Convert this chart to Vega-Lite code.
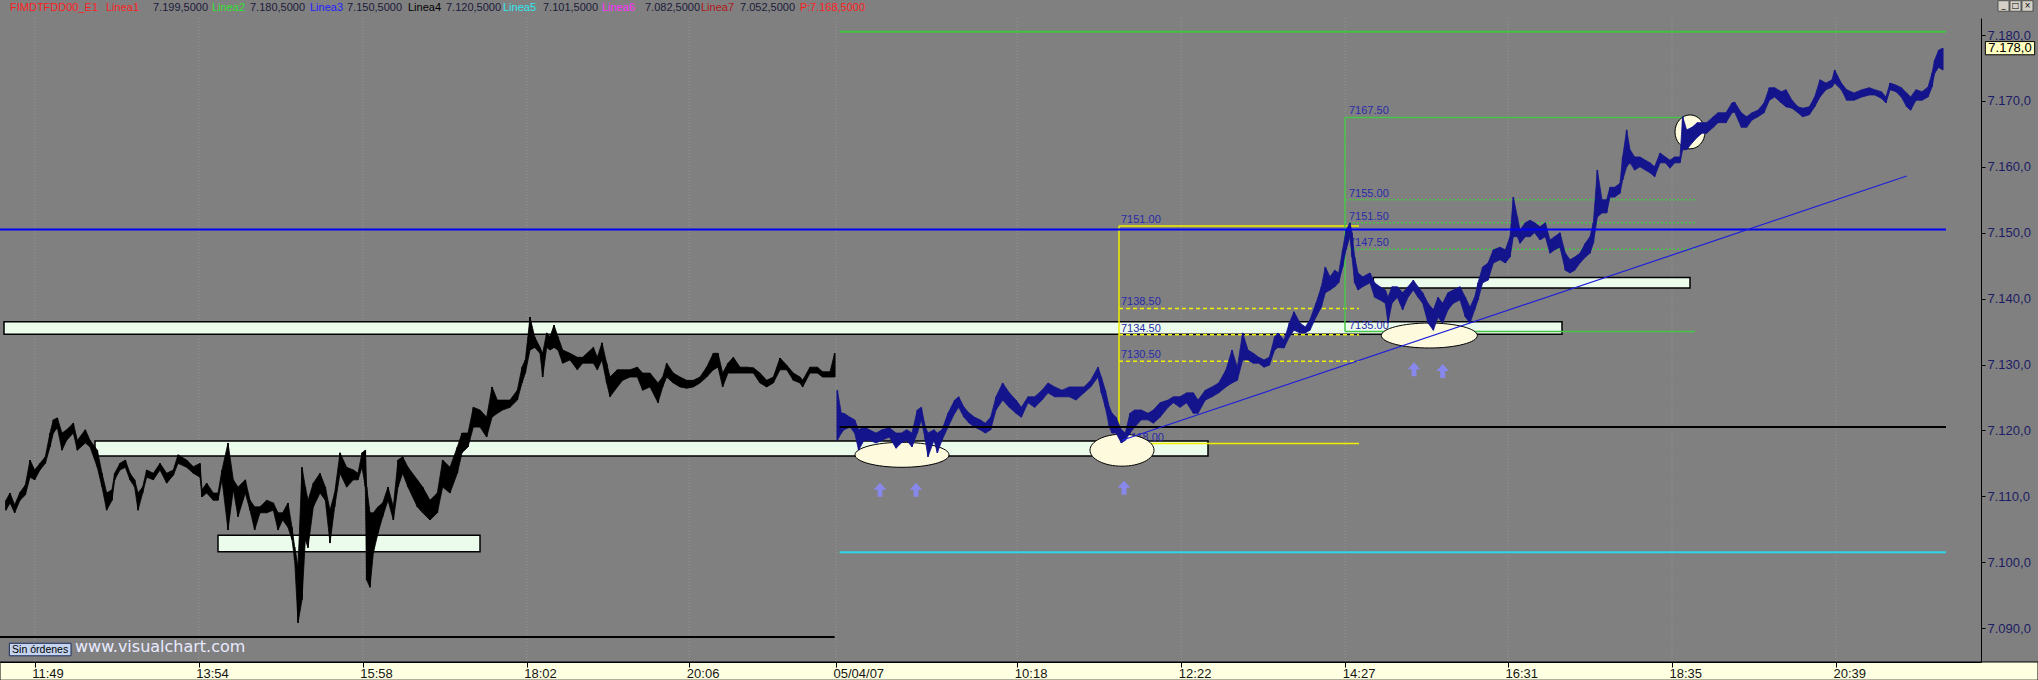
{
"$schema":"https://vega.github.io/schema/vega-lite/v6.json",
"width":1981,"height":644,
"autosize":{"type":"none"},
"padding":{"left":0,"top":18,"right":57,"bottom":18},
"background":"#808080",
"config":{"view":{"stroke":null},"font":"Liberation Sans"},
"datasets":{
"bars":[
{"t":4.5,"h":7109.4,"l":7107.9,"c":"sesA"},{"t":7.5,"h":7110.5,"l":7109,"c":"sesA"},{"t":11,"h":7108.7,"l":7107.5,"c":"sesA"},{"t":15,"h":7110.6,"l":7109.4,"c":"sesA"},{"t":19,"h":7111.7,"l":7110.2,"c":"sesA"},{"t":22.5,"h":7115.5,"l":7112.9,"c":"sesA"},{"t":26,"h":7114,"l":7112.5,"c":"sesA"},{"t":30,"h":7115,"l":7114,"c":"sesA"},{"t":34,"h":7116,"l":7115,"c":"sesA"},{"t":37.5,"h":7119.6,"l":7117.5,"c":"sesA"},{"t":40,"h":7121.6,"l":7119.6,"c":"sesA"},{"t":43,"h":7121.9,"l":7120.4,"c":"sesA"},{"t":46.5,"h":7119.6,"l":7117,"c":"sesA"},{"t":50,"h":7120.1,"l":7118.5,"c":"sesA"},{"t":55,"h":7121.1,"l":7119.6,"c":"sesA"},{"t":58,"h":7118.5,"l":7117,"c":"sesA"},{"t":64,"h":7120.1,"l":7118.1,"c":"sesA"},{"t":67.5,"h":7118.5,"l":7117.5,"c":"sesA"},{"t":73,"h":7117,"l":7114.4,"c":"sesA"},{"t":76.5,"h":7113.5,"l":7111.4,"c":"sesA"},{"t":80,"h":7110.5,"l":7107.9,"c":"sesA"},{"t":84,"h":7111,"l":7109.4,"c":"sesA"},{"t":86,"h":7113.5,"l":7112.5,"c":"sesA"},{"t":90,"h":7115,"l":7114,"c":"sesA"},{"t":94,"h":7115.5,"l":7114.4,"c":"sesA"},{"t":97.5,"h":7113.5,"l":7112.5,"c":"sesA"},{"t":101,"h":7112.5,"l":7111.4,"c":"sesA"},{"t":103.5,"h":7110.5,"l":7107.9,"c":"sesA"},{"t":107,"h":7111.4,"l":7110.5,"c":"sesA"},{"t":110,"h":7114,"l":7112.9,"c":"sesA"},{"t":115,"h":7113.5,"l":7112.5,"c":"sesA"},{"t":120,"h":7115,"l":7114,"c":"sesA"},{"t":125,"h":7113.5,"l":7112,"c":"sesA"},{"t":130,"h":7114,"l":7113.2,"c":"sesA"},{"t":133.5,"h":7116.3,"l":7115,"c":"sesA"},{"t":140,"h":7115.5,"l":7114.4,"c":"sesA"},{"t":145,"h":7114.5,"l":7113.5,"c":"sesA"},{"t":150,"h":7115,"l":7112.9,"c":"sesA"},{"t":151.5,"h":7111,"l":7109.9,"c":"sesA"},{"t":155,"h":7112,"l":7110.5,"c":"sesA"},{"t":160,"h":7110.5,"l":7109.4,"c":"sesA"},{"t":163.5,"h":7110.5,"l":7109.4,"c":"sesA"},{"t":166.5,"h":7114,"l":7112.5,"c":"sesA"},{"t":171,"h":7118.1,"l":7104.9,"c":"sesA"},{"t":175,"h":7112.5,"l":7111,"c":"sesA"},{"t":178.5,"h":7111.4,"l":7106.9,"c":"sesA"},{"t":184,"h":7112.5,"l":7110.5,"c":"sesA"},{"t":187.5,"h":7109.4,"l":7107.9,"c":"sesA"},{"t":191,"h":7108.4,"l":7104.9,"c":"sesA"},{"t":195,"h":7108.4,"l":7107.5,"c":"sesA"},{"t":200,"h":7109.4,"l":7107.5,"c":"sesA"},{"t":205,"h":7109,"l":7107.9,"c":"sesA"},{"t":208.5,"h":7107.5,"l":7104.9,"c":"sesA"},{"t":212,"h":7107.5,"l":7106.4,"c":"sesA"},{"t":216,"h":7109,"l":7105.3,"c":"sesA"},{"t":219,"h":7105.3,"l":7103.4,"c":"sesA"},{"t":221,"h":7102.3,"l":7100.3,"c":"sesA"},{"t":223.5,"h":7099.3,"l":7090.8,"c":"sesA"},{"t":226.5,"h":7114.4,"l":7094.3,"c":"sesA"},{"t":229,"h":7111.4,"l":7103.4,"c":"sesA"},{"t":231,"h":7109.4,"l":7102.2,"c":"sesA"},{"t":235,"h":7112,"l":7108.4,"c":"sesA"},{"t":240,"h":7113.5,"l":7110.5,"c":"sesA"},{"t":244,"h":7111.4,"l":7109.4,"c":"sesA"},{"t":247.5,"h":7107.9,"l":7102.9,"c":"sesA"},{"t":251,"h":7110.5,"l":7108.4,"c":"sesA"},{"t":255,"h":7116.6,"l":7113.5,"c":"sesA"},{"t":260,"h":7114.4,"l":7111.4,"c":"sesA"},{"t":265,"h":7114,"l":7112.5,"c":"sesA"},{"t":268.5,"h":7113.5,"l":7112.5,"c":"sesA"},{"t":271.5,"h":7116.6,"l":7114.4,"c":"sesA"},{"t":274,"h":7117,"l":7111.4,"c":"sesA"},{"t":275,"h":7111.4,"l":7097.3,"c":"sesA"},{"t":277.5,"h":7107.5,"l":7096.2,"c":"sesA"},{"t":280,"h":7107.5,"l":7101.4,"c":"sesA"},{"t":283.5,"h":7108.4,"l":7104.4,"c":"sesA"},{"t":287,"h":7109,"l":7106.9,"c":"sesA"},{"t":291,"h":7111.4,"l":7109.4,"c":"sesA"},{"t":295,"h":7108.4,"l":7106.4,"c":"sesA"},{"t":298.5,"h":7115.5,"l":7111.4,"c":"sesA"},{"t":302,"h":7116,"l":7113.5,"c":"sesA"},{"t":306,"h":7114.4,"l":7111.4,"c":"sesA"},{"t":313,"h":7112.5,"l":7108.4,"c":"sesA"},{"t":317,"h":7111.4,"l":7107.5,"c":"sesA"},{"t":322.5,"h":7109.4,"l":7106.4,"c":"sesA"},{"t":328,"h":7110.5,"l":7107.5,"c":"sesA"},{"t":332,"h":7115.5,"l":7111.4,"c":"sesA"},{"t":337.5,"h":7114.4,"l":7110.5,"c":"sesA"},{"t":343,"h":7117.5,"l":7113.5,"c":"sesA"},{"t":346.5,"h":7119.6,"l":7116.6,"c":"sesA"},{"t":351,"h":7119.6,"l":7117.5,"c":"sesA"},{"t":355,"h":7123.5,"l":7120.5,"c":"sesA"},{"t":360,"h":7123.1,"l":7120.5,"c":"sesA"},{"t":365,"h":7122,"l":7119,"c":"sesA"},{"t":369,"h":7126.6,"l":7122,"c":"sesA"},{"t":373,"h":7124.6,"l":7122.6,"c":"sesA"},{"t":377,"h":7124.6,"l":7123.1,"c":"sesA"},{"t":382.5,"h":7124.6,"l":7123.5,"c":"sesA"},{"t":388,"h":7126.1,"l":7124.6,"c":"sesA"},{"t":391.5,"h":7129.6,"l":7127.2,"c":"sesA"},{"t":394,"h":7130.7,"l":7128.7,"c":"sesA"},{"t":397.5,"h":7137.2,"l":7132.2,"c":"sesA"},{"t":401,"h":7134.2,"l":7132.6,"c":"sesA"},{"t":405,"h":7132.6,"l":7131.7,"c":"sesA"},{"t":407,"h":7131.7,"l":7128.1,"c":"sesA"},{"t":410,"h":7134.8,"l":7132.6,"c":"sesA"},{"t":412.5,"h":7134.2,"l":7132.2,"c":"sesA"},{"t":415.5,"h":7136,"l":7132.6,"c":"sesA"},{"t":418.5,"h":7134.2,"l":7132.2,"c":"sesA"},{"t":422,"h":7132.2,"l":7130.2,"c":"sesA"},{"t":427.5,"h":7131.7,"l":7130.7,"c":"sesA"},{"t":433,"h":7131.1,"l":7129.2,"c":"sesA"},{"t":437,"h":7131.1,"l":7130.2,"c":"sesA"},{"t":445,"h":7132.6,"l":7130.2,"c":"sesA"},{"t":448,"h":7131.1,"l":7129.2,"c":"sesA"},{"t":451.5,"h":7133.3,"l":7130.7,"c":"sesA"},{"t":455,"h":7130.2,"l":7127.2,"c":"sesA"},{"t":457.5,"h":7128.1,"l":7125.1,"c":"sesA"},{"t":463,"h":7129.2,"l":7126.6,"c":"sesA"},{"t":467,"h":7129.2,"l":7127.6,"c":"sesA"},{"t":472.5,"h":7129.2,"l":7128.1,"c":"sesA"},{"t":478,"h":7129.6,"l":7128.1,"c":"sesA"},{"t":482,"h":7128.7,"l":7126.1,"c":"sesA"},{"t":487.5,"h":7128.7,"l":7126.6,"c":"sesA"},{"t":493.5,"h":7127.2,"l":7124.2,"c":"sesA"},{"t":497,"h":7128.1,"l":7126.6,"c":"sesA"},{"t":500,"h":7130.2,"l":7128.1,"c":"sesA"},{"t":505,"h":7128.7,"l":7127.2,"c":"sesA"},{"t":510,"h":7128.1,"l":7126.6,"c":"sesA"},{"t":515,"h":7127.6,"l":7126.4,"c":"sesA"},{"t":520,"h":7127.6,"l":7126.6,"c":"sesA"},{"t":525,"h":7128.1,"l":7127.2,"c":"sesA"},{"t":530,"h":7129.6,"l":7128.1,"c":"sesA"},{"t":535,"h":7131.7,"l":7129.2,"c":"sesA"},{"t":538.5,"h":7131.7,"l":7129.6,"c":"sesA"},{"t":542,"h":7128.7,"l":7126.6,"c":"sesA"},{"t":546,"h":7130.2,"l":7128.7,"c":"sesA"},{"t":550,"h":7131.1,"l":7128.7,"c":"sesA"},{"t":555,"h":7129.6,"l":7128.7,"c":"sesA"},{"t":560,"h":7129.6,"l":7128.7,"c":"sesA"},{"t":565,"h":7129.5,"l":7128.7,"c":"sesA"},{"t":570,"h":7128.7,"l":7127.2,"c":"sesA"},{"t":575,"h":7127.6,"l":7126.6,"c":"sesA"},{"t":580,"h":7128.1,"l":7127.2,"c":"sesA"},{"t":585,"h":7131,"l":7129.2,"c":"sesA"},{"t":590,"h":7129.9,"l":7129.2,"c":"sesA"},{"t":595,"h":7128.7,"l":7127.6,"c":"sesA"},{"t":600,"h":7128.1,"l":7127.2,"c":"sesA"},{"t":602,"h":7127.6,"l":7126.6,"c":"sesA"},{"t":607.5,"h":7129.6,"l":7128.7,"c":"sesA"},{"t":613,"h":7129.6,"l":7128.7,"c":"sesA"},{"t":617,"h":7128.9,"l":7128.1,"c":"sesA"},{"t":622.5,"h":7128.9,"l":7128.1,"c":"sesA"},{"t":626,"h":7131.7,"l":7128.1,"c":"sesA"},
{"t":628,"h":7126.1,"l":7118.5,"c":"sesB"},{"t":631,"h":7122.6,"l":7119.6,"c":"sesB"},{"t":633,"h":7122.6,"l":7120.1,"c":"sesB"},{"t":637.5,"h":7122,"l":7120.5,"c":"sesB"},{"t":641,"h":7121.6,"l":7119.6,"c":"sesB"},{"t":644,"h":7120.1,"l":7117,"c":"sesB"},{"t":648,"h":7120.5,"l":7118.5,"c":"sesB"},{"t":652,"h":7120.1,"l":7118.5,"c":"sesB"},{"t":657,"h":7119.6,"l":7118.1,"c":"sesB"},{"t":661.5,"h":7120.1,"l":7118.5,"c":"sesB"},{"t":667,"h":7120.4,"l":7119,"c":"sesB"},{"t":672,"h":7119.6,"l":7117.3,"c":"sesB"},{"t":676,"h":7119.6,"l":7118.1,"c":"sesB"},{"t":680,"h":7120.1,"l":7118.5,"c":"sesB"},{"t":684,"h":7119.6,"l":7117.5,"c":"sesB"},{"t":688,"h":7123.1,"l":7119.6,"c":"sesB"},{"t":691,"h":7123.5,"l":7121.6,"c":"sesB"},{"t":694,"h":7120.5,"l":7118.5,"c":"sesB"},{"t":696,"h":7119.6,"l":7116,"c":"sesB"},{"t":700.5,"h":7120.1,"l":7118.5,"c":"sesB"},{"t":703,"h":7119.6,"l":7116.6,"c":"sesB"},{"t":706.5,"h":7120.1,"l":7118.5,"c":"sesB"},{"t":711,"h":7122.6,"l":7120.5,"c":"sesB"},{"t":716,"h":7124.6,"l":7122.6,"c":"sesB"},{"t":719,"h":7125.1,"l":7123.5,"c":"sesB"},{"t":723,"h":7123.5,"l":7122,"c":"sesB"},{"t":727,"h":7122.6,"l":7121.1,"c":"sesB"},{"t":731,"h":7122,"l":7120.5,"c":"sesB"},{"t":735,"h":7121.6,"l":7120.1,"c":"sesB"},{"t":739,"h":7121.1,"l":7119.6,"c":"sesB"},{"t":743,"h":7122,"l":7120.1,"c":"sesB"},{"t":747,"h":7125.1,"l":7123.1,"c":"sesB"},{"t":752,"h":7127.2,"l":7124.6,"c":"sesB"},{"t":757,"h":7125.7,"l":7123.5,"c":"sesB"},{"t":762,"h":7124.6,"l":7122.6,"c":"sesB"},{"t":766,"h":7123.5,"l":7122,"c":"sesB"},{"t":771,"h":7125.1,"l":7124.2,"c":"sesB"},{"t":776,"h":7125.1,"l":7123.5,"c":"sesB"},{"t":781.5,"h":7126.1,"l":7124.6,"c":"sesB"},{"t":786,"h":7127.2,"l":7125.7,"c":"sesB"},{"t":791,"h":7126.6,"l":7125.1,"c":"sesB"},{"t":796.5,"h":7126.1,"l":7125.1,"c":"sesB"},{"t":802,"h":7126.6,"l":7125.1,"c":"sesB"},{"t":807,"h":7126.6,"l":7124.6,"c":"sesB"},{"t":813,"h":7126.6,"l":7125.7,"c":"sesB"},{"t":818,"h":7127.6,"l":7126.6,"c":"sesB"},{"t":823.5,"h":7129.6,"l":7128.1,"c":"sesB"},{"t":826,"h":7128.1,"l":7125.7,"c":"sesB"},{"t":829,"h":7126.1,"l":7123.5,"c":"sesB"},{"t":832,"h":7123.5,"l":7120.5,"c":"sesB"},{"t":834,"h":7122.6,"l":7119.6,"c":"sesB"},{"t":837,"h":7122,"l":7119.6,"c":"sesB"},{"t":841,"h":7120.1,"l":7118.1,"c":"sesB"},{"t":844,"h":7119.6,"l":7118.5,"c":"sesB"},{"t":847.5,"h":7122.6,"l":7119.6,"c":"sesB"},{"t":851,"h":7123.1,"l":7120.5,"c":"sesB"},{"t":856,"h":7123.1,"l":7121.6,"c":"sesB"},{"t":861,"h":7122.6,"l":7121.6,"c":"sesB"},{"t":865,"h":7123.1,"l":7121.1,"c":"sesB"},{"t":870,"h":7124.2,"l":7122,"c":"sesB"},{"t":876,"h":7124.6,"l":7123.5,"c":"sesB"},{"t":880,"h":7125.1,"l":7124.2,"c":"sesB"},{"t":885,"h":7125.1,"l":7123.5,"c":"sesB"},{"t":890,"h":7125.7,"l":7124.2,"c":"sesB"},{"t":895,"h":7125.7,"l":7122.6,"c":"sesB"},{"t":898.5,"h":7124.6,"l":7122.6,"c":"sesB"},{"t":904,"h":7126.1,"l":7124.6,"c":"sesB"},{"t":909,"h":7126.6,"l":7125.1,"c":"sesB"},{"t":914,"h":7127.2,"l":7125.7,"c":"sesB"},{"t":919.5,"h":7129.2,"l":7126.6,"c":"sesB"},{"t":924,"h":7132.2,"l":7127.2,"c":"sesB"},{"t":928,"h":7129.6,"l":7127.6,"c":"sesB"},{"t":932,"h":7134.8,"l":7130.7,"c":"sesB"},{"t":936,"h":7132.2,"l":7130.7,"c":"sesB"},{"t":940,"h":7131.7,"l":7130.2,"c":"sesB"},{"t":944,"h":7131.1,"l":7130.2,"c":"sesB"},{"t":948,"h":7130.7,"l":7129.6,"c":"sesB"},{"t":952,"h":7131.1,"l":7129.9,"c":"sesB"},{"t":956,"h":7134.2,"l":7132.2,"c":"sesB"},{"t":958.5,"h":7134.8,"l":7132.6,"c":"sesB"},{"t":963,"h":7133.7,"l":7132.5,"c":"sesB"},{"t":967,"h":7136.3,"l":7134.2,"c":"sesB"},{"t":970.5,"h":7138,"l":7135.2,"c":"sesB"},{"t":975,"h":7136.3,"l":7134.8,"c":"sesB"},{"t":979,"h":7135.7,"l":7134.8,"c":"sesB"},{"t":982.5,"h":7136.8,"l":7135.2,"c":"sesB"},{"t":987,"h":7139.3,"l":7137.2,"c":"sesB"},{"t":991,"h":7141.8,"l":7138.7,"c":"sesB"},{"t":994,"h":7144.8,"l":7140.9,"c":"sesB"},{"t":997.5,"h":7143.3,"l":7141.3,"c":"sesB"},{"t":1001,"h":7144.3,"l":7141.8,"c":"sesB"},{"t":1004,"h":7143.9,"l":7142.4,"c":"sesB"},{"t":1007,"h":7147.4,"l":7144.8,"c":"sesB"},{"t":1009.5,"h":7150.4,"l":7147.4,"c":"sesB"},{"t":1012.5,"h":7151.5,"l":7149.4,"c":"sesB"},{"t":1014,"h":7150,"l":7146.3,"c":"sesB"},{"t":1016,"h":7146.3,"l":7142.4,"c":"sesB"},{"t":1018.5,"h":7143.9,"l":7141.3,"c":"sesB"},{"t":1022,"h":7143.3,"l":7141.8,"c":"sesB"},{"t":1027.5,"h":7143.9,"l":7142.4,"c":"sesB"},{"t":1031,"h":7142.4,"l":7140.2,"c":"sesB"},{"t":1035,"h":7141.8,"l":7139.8,"c":"sesB"},{"t":1039,"h":7141.3,"l":7139.3,"c":"sesB"},{"t":1041,"h":7140.2,"l":7136.3,"c":"sesB"},{"t":1044,"h":7141.8,"l":7139.3,"c":"sesB"},{"t":1048,"h":7141.8,"l":7140.2,"c":"sesB"},{"t":1052,"h":7140.9,"l":7138.3,"c":"sesB"},{"t":1056,"h":7141.8,"l":7140.2,"c":"sesB"},{"t":1060,"h":7142.8,"l":7141.3,"c":"sesB"},{"t":1063.5,"h":7141.8,"l":7140.2,"c":"sesB"},{"t":1067,"h":7140.9,"l":7139.3,"c":"sesB"},{"t":1071,"h":7139.3,"l":7136.3,"c":"sesB"},{"t":1075,"h":7138.3,"l":7135.2,"c":"sesB"},{"t":1078.5,"h":7140.2,"l":7137.2,"c":"sesB"},{"t":1082,"h":7139.3,"l":7136.3,"c":"sesB"},{"t":1086,"h":7140.9,"l":7138.3,"c":"sesB"},{"t":1090,"h":7141.3,"l":7139.3,"c":"sesB"},{"t":1095,"h":7141.8,"l":7139.8,"c":"sesB"},{"t":1099,"h":7140.2,"l":7137.2,"c":"sesB"},{"t":1102.5,"h":7138.7,"l":7136.3,"c":"sesB"},{"t":1106,"h":7140.2,"l":7138.3,"c":"sesB"},{"t":1108.5,"h":7142.4,"l":7139.8,"c":"sesB"},{"t":1112,"h":7144.8,"l":7142.4,"c":"sesB"},{"t":1116,"h":7145.4,"l":7142.8,"c":"sesB"},{"t":1120,"h":7147.4,"l":7145.4,"c":"sesB"},{"t":1125,"h":7147.8,"l":7145.9,"c":"sesB"},{"t":1129,"h":7147.4,"l":7145.4,"c":"sesB"},{"t":1132.5,"h":7149.4,"l":7146.3,"c":"sesB"},{"t":1135,"h":7155.4,"l":7149.4,"c":"sesB"},{"t":1138,"h":7152.4,"l":7149.4,"c":"sesB"},{"t":1140,"h":7150.4,"l":7148.4,"c":"sesB"},{"t":1144,"h":7151.5,"l":7149.4,"c":"sesB"},{"t":1147.5,"h":7151.9,"l":7149.4,"c":"sesB"},{"t":1151,"h":7151.5,"l":7150,"c":"sesB"},{"t":1155,"h":7150.9,"l":7148.9,"c":"sesB"},{"t":1159,"h":7151.5,"l":7149.4,"c":"sesB"},{"t":1162.5,"h":7148.9,"l":7146.9,"c":"sesB"},{"t":1166,"h":7149.4,"l":7147.4,"c":"sesB"},{"t":1170,"h":7150,"l":7147.8,"c":"sesB"},{"t":1174,"h":7146.9,"l":7144.3,"c":"sesB"},{"t":1177.5,"h":7145.9,"l":7143.9,"c":"sesB"},{"t":1181,"h":7146.3,"l":7144.3,"c":"sesB"},{"t":1185,"h":7146.9,"l":7145.4,"c":"sesB"},{"t":1189,"h":7148.4,"l":7146.3,"c":"sesB"},{"t":1192.5,"h":7149.4,"l":7146.9,"c":"sesB"},{"t":1195,"h":7151.5,"l":7148.4,"c":"sesB"},{"t":1198,"h":7159.5,"l":7152.4,"c":"sesB"},{"t":1201.5,"h":7155,"l":7153,"c":"sesB"},{"t":1205,"h":7155,"l":7153,"c":"sesB"},{"t":1207.5,"h":7156.9,"l":7155.4,"c":"sesB"},{"t":1211,"h":7156.9,"l":7155.4,"c":"sesB"},{"t":1215,"h":7157.5,"l":7156,"c":"sesB"},{"t":1217,"h":7161.5,"l":7158,"c":"sesB"},{"t":1220,"h":7165.6,"l":7160,"c":"sesB"},{"t":1222.5,"h":7162.6,"l":7160.6,"c":"sesB"},{"t":1226,"h":7161.5,"l":7159.5,"c":"sesB"},{"t":1230,"h":7161.5,"l":7160,"c":"sesB"},{"t":1234,"h":7161,"l":7159.5,"c":"sesB"},{"t":1237.5,"h":7160.6,"l":7159.1,"c":"sesB"},{"t":1241,"h":7160,"l":7158.5,"c":"sesB"},{"t":1245,"h":7162.1,"l":7160.6,"c":"sesB"},{"t":1249,"h":7161.5,"l":7160.6,"c":"sesB"},{"t":1252.5,"h":7161,"l":7159.8,"c":"sesB"},{"t":1256,"h":7161.5,"l":7160.6,"c":"sesB"},{"t":1260,"h":7161.5,"l":7160.6,"c":"sesB"},{"t":1262,"h":7167.6,"l":7162.6,"c":"sesB"},{"t":1265,"h":7165.6,"l":7162.6,"c":"sesB"},{"t":1269,"h":7166,"l":7163.6,"c":"sesB"},{"t":1273,"h":7166.7,"l":7164.5,"c":"sesB"},{"t":1276.5,"h":7166.7,"l":7165.1,"c":"sesB"},{"t":1280,"h":7166.7,"l":7165.1,"c":"sesB"},{"t":1285,"h":7167.6,"l":7166,"c":"sesB"},{"t":1288.5,"h":7168.2,"l":7166.7,"c":"sesB"},{"t":1294.5,"h":7168.2,"l":7166.7,"c":"sesB"},{"t":1299,"h":7169.7,"l":7168.2,"c":"sesB"},{"t":1301,"h":7169.8,"l":7168.3,"c":"sesB"},{"t":1306,"h":7168.2,"l":7166,"c":"sesB"},{"t":1310,"h":7167.6,"l":7166,"c":"sesB"},{"t":1314,"h":7168.2,"l":7167.1,"c":"sesB"},{"t":1318.5,"h":7168.6,"l":7167.6,"c":"sesB"},{"t":1323,"h":7169.7,"l":7168.2,"c":"sesB"},{"t":1327,"h":7172,"l":7170.1,"c":"sesB"},{"t":1331,"h":7172,"l":7170.6,"c":"sesB"},{"t":1336,"h":7171.4,"l":7169.7,"c":"sesB"},{"t":1339.5,"h":7171.7,"l":7169.1,"c":"sesB"},{"t":1344,"h":7170.1,"l":7168.9,"c":"sesB"},{"t":1348.5,"h":7169.1,"l":7168.2,"c":"sesB"},{"t":1352,"h":7168.9,"l":7167.6,"c":"sesB"},{"t":1357,"h":7169.1,"l":7167.9,"c":"sesB"},{"t":1361,"h":7170.6,"l":7169.1,"c":"sesB"},{"t":1365,"h":7173.2,"l":7170.6,"c":"sesB"},{"t":1369.5,"h":7172.7,"l":7171.7,"c":"sesB"},{"t":1374,"h":7173.2,"l":7172.1,"c":"sesB"},{"t":1376,"h":7174.7,"l":7172.7,"c":"sesB"},{"t":1381,"h":7172.7,"l":7171.7,"c":"sesB"},{"t":1385,"h":7171.7,"l":7170.1,"c":"sesB"},{"t":1390.5,"h":7171.2,"l":7170.1,"c":"sesB"},{"t":1396.5,"h":7171.7,"l":7170.6,"c":"sesB"},{"t":1402,"h":7172,"l":7170.9,"c":"sesB"},{"t":1406,"h":7171.7,"l":7170.9,"c":"sesB"},{"t":1411,"h":7171.4,"l":7170.4,"c":"sesB"},{"t":1414.5,"h":7170.6,"l":7169.7,"c":"sesB"},{"t":1417.5,"h":7172.7,"l":7171.7,"c":"sesB"},{"t":1422,"h":7172.4,"l":7171.4,"c":"sesB"},{"t":1426,"h":7172,"l":7170.6,"c":"sesB"},{"t":1430,"h":7171.2,"l":7169.1,"c":"sesB"},{"t":1433,"h":7170.6,"l":7168.6,"c":"sesB"},{"t":1437,"h":7171.7,"l":7170.1,"c":"sesB"},{"t":1441.5,"h":7171.4,"l":7170.1,"c":"sesB"},{"t":1446,"h":7172.1,"l":7170.6,"c":"sesB"},{"t":1449,"h":7174.2,"l":7172.1,"c":"sesB"},{"t":1451,"h":7176.2,"l":7174.2,"c":"sesB"},{"t":1454,"h":7177.7,"l":7175.1,"c":"sesB"},{"t":1457,"h":7178,"l":7174.7,"c":"sesB"}
],
"levels":[{"t":629.7,"t2":1459.5,"p":7180.5,"c":"L2"},{"t":0,"t2":1459.5,"p":7150.5,"c":"L3"},{"t":629.7,"t2":1459.5,"p":7120.5,"c":"L4"},{"t":629.7,"t2":1459.5,"p":7101.5,"c":"L5"},{"t":0,"t2":626,"p":7088.65,"c":"prev"}],
"bands":[{"t":3,"t2":1171.5,"p":7134.6,"p2":7136.5},{"t":71.25,"t2":906,"p":7116.1,"p2":7118.4},{"t":163.5,"t2":360,"p":7101.6,"p2":7104.1},{"t":1030,"t2":1267.5,"p":7141.6,"p2":7143.2}],
"yfib":[{"t":839.25,"t2":1019.25,"p":7151,"d":"solid"},{"t":839.25,"t2":1019.25,"p":7138.5,"d":"dash"},{"t":839.25,"t2":1019.25,"p":7134.5,"d":"dash"},{"t":839.25,"t2":1019.25,"p":7130.5,"d":"dash"},{"t":844.5,"t2":1019.25,"p":7118,"d":"solid"}],
"gfib":[{"t":1008.75,"t2":1274.25,"p":7167.5,"d":"solid"},{"t":1008.75,"t2":1271.25,"p":7155,"d":"dot"},{"t":1008.75,"t2":1271.25,"p":7151.5,"d":"dot"},{"t":1008.75,"t2":1271.25,"p":7147.5,"d":"dot"},{"t":1008.75,"t2":1271.25,"p":7135,"d":"solid"}],
"flabels":[{"t":840.75,"p":7151,"txt":"7151.00"},{"t":840.75,"p":7138.5,"txt":"7138.50"},{"t":840.75,"p":7134.5,"txt":"7134.50"},{"t":840.75,"p":7130.5,"txt":"7130.50"},{"t":843.75,"p":7118,"txt":"7118.00"},{"t":1011.75,"p":7167.5,"txt":"7167.50"},{"t":1011.75,"p":7155,"txt":"7155.00"},{"t":1011.75,"p":7151.5,"txt":"7151.50"},{"t":1011.75,"p":7147.5,"txt":"7147.50"},{"t":1011.75,"p":7135,"txt":"7135.00"}],
"header":[{"t":7.5,"txt":"FIMDTFDD00_E1","c":"hn"},{"t":79.5,"txt":"Linea1","c":"h1"},{"t":114.75,"txt":"7.199,5000","c":"hv"},{"t":159,"txt":"Linea2","c":"h2"},{"t":187.5,"txt":"7.180,5000","c":"hv"},{"t":232.5,"txt":"Linea3","c":"h3"},{"t":260.25,"txt":"7.150,5000","c":"hv"},{"t":306,"txt":"Linea4","c":"h4"},{"t":334.5,"txt":"7.120,5000","c":"hv"},{"t":377.25,"txt":"Linea5","c":"h5"},{"t":407.25,"txt":"7.101,5000","c":"hv"},{"t":451.5,"txt":"Linea6","c":"h6"},{"t":483.75,"txt":"7.082,5000","c":"hv"},{"t":525.75,"txt":"Linea7","c":"h7"},{"t":555,"txt":"7.052,5000","c":"hv"},{"t":600,"txt":"P:","c":"hp"},{"t":607.5,"txt":"7.168,5000","c":"hp"}],
"grid":[{"t":26},{"t":149},{"t":272},{"t":395},{"t":517},{"t":627},{"t":763},{"t":886},{"t":1009},{"t":1131},{"t":1254},{"t":1377}],
"arrows":[{"t":660,"p":7111},{"t":687,"p":7111},{"t":843,"p":7111.3},{"t":1060.5,"p":7129.3},{"t":1082,"p":7129}],
"buttons":[{"t":1498.5,"t2":1506.75,"g":"_"},{"t":1507.5,"t2":1515.75,"g":"□"},{"t":1516.5,"t2":1524.75,"g":"×"}]
},
"layer":[
{"data":{"values":[{"t":0,"t2":1528.5,"p":7084.86,"p2":7082.1}]},
 "mark":{"type":"rect","fill":"#ffffe1","stroke":"#000000","strokeWidth":1},
 "encoding":{
  "x":{"field":"t","type":"quantitative","scale":{"domain":[0,1485.75],"nice":false,"zero":false},
   "axis":{"title":null,"values":[26,149,272,395,517,627,763,886,1009,1131,1254,1377],
    "labelExpr":"datum.value == 26 ? '11:49' : datum.value == 149 ? '13:54' : datum.value == 272 ? '15:58' : datum.value == 395 ? '18:02' : datum.value == 517 ? '20:06' : datum.value == 627 ? '05/04/07' : datum.value == 763 ? '10:18' : datum.value == 886 ? '12:22' : datum.value == 1009 ? '14:27' : datum.value == 1131 ? '16:31' : datum.value == 1254 ? '18:35' : '20:39'",
    "domain":true,"domainColor":"#000000","domainWidth":1,"ticks":true,"tickColor":"#000000","tickSize":5,"tickWidth":1,
    "labelColor":"#141414","labelFont":"Liberation Sans","labelFontSize":13,"labelAlign":"left","labelBaseline":"top","labelPadding":0,"labelOffset":-3,
    "labelOverlap":false,"labelBound":false,"labelFlush":false,"grid":false,"zindex":1}},
  "x2":{"field":"t2"},
  "y":{"field":"p","type":"quantitative","scale":{"domain":[7084.86,7182.58],"nice":false,"zero":false},
   "axis":{"title":null,"orient":"right","values":[7090,7100,7110,7120,7130,7140,7150,7160,7170,7180],
    "labelExpr":"replace(replace(replace(format(datum.value, ',.1f'), ',', '#'), '.', ','), '#', '.')",
    "domain":true,"domainColor":"#000000","domainWidth":1,"ticks":true,"tickColor":"#000000","tickSize":4,"labelPadding":2,
    "labelColor":"#1c1c64","labelFont":"Liberation Sans","labelFontSize":13,"grid":false,"zindex":1,"labelBound":false,"labelOverlap":false}},
  "y2":{"field":"p2"}}},
{"data":{"name":"grid"},"mark":{"type":"rule","color":"#969696","strokeDash":[1,2],"strokeWidth":1},
 "encoding":{"x":{"field":"t","type":"quantitative"}}},
{"data":{"name":"bands"},"mark":{"type":"rect","fill":"#ecfcec","stroke":"#000000","strokeWidth":1.5},
 "encoding":{"x":{"field":"t","type":"quantitative"},"x2":{"field":"t2"},"y":{"field":"p","type":"quantitative"},"y2":{"field":"p2"}}},
{"data":{"name":"yfib"},"mark":{"type":"rule","color":"#f0f000","strokeWidth":1.5},
 "encoding":{"x":{"field":"t","type":"quantitative"},"x2":{"field":"t2"},"y":{"field":"p","type":"quantitative"},
  "strokeDash":{"field":"d","type":"nominal","scale":{"domain":["solid","dash","dot"],"range":[[1,0],[4,3],[2,2]]},"legend":null}}},
{"data":{"values":[{"t":839.25,"p":7151,"p2":7118}]},"mark":{"type":"rule","color":"#f0f000","strokeWidth":1.5},
 "encoding":{"x":{"field":"t","type":"quantitative"},"y":{"field":"p","type":"quantitative"},"y2":{"field":"p2"}}},
{"data":{"name":"gfib"},"mark":{"type":"rule","color":"#48c448","strokeWidth":1.5},
 "encoding":{"x":{"field":"t","type":"quantitative"},"x2":{"field":"t2"},"y":{"field":"p","type":"quantitative"},
  "strokeDash":{"field":"d","type":"nominal","scale":{"domain":["solid","dash","dot"],"range":[[1,0],[4,3],[2,2]]},"legend":null}}},
{"data":{"values":[{"t":1008.75,"p":7167.5,"p2":7135}]},"mark":{"type":"rule","color":"#48c448","strokeWidth":1.5},
 "encoding":{"x":{"field":"t","type":"quantitative"},"y":{"field":"p","type":"quantitative"},"y2":{"field":"p2"}}},
{"data":{"name":"flabels"},"mark":{"type":"text","font":"Liberation Sans","fontSize":11,"color":"#2a2aaa","align":"left","baseline":"alphabetic","dy":-3},
 "encoding":{"x":{"field":"t","type":"quantitative"},"y":{"field":"p","type":"quantitative"},"text":{"field":"txt"}}},
{"data":{"values":[{"t":676.5,"p":7116.3}]},"mark":{"type":"point","shape":"M -1 0 A 1 0.266 0 1 0 1 0 A 1 0.266 0 1 0 -1 0 Z","size":8836,"filled":true,"fill":"#fdfade","stroke":"#000000","strokeWidth":1,"opacity":1},
 "encoding":{"x":{"field":"t","type":"quantitative"},"y":{"field":"p","type":"quantitative"}}},
{"data":{"values":[{"t":841.5,"p":7117.0}]},"mark":{"type":"point","shape":"M -1 0 A 1 0.5 0 1 0 1 0 A 1 0.5 0 1 0 -1 0 Z","size":4096,"filled":true,"fill":"#fdfade","stroke":"#000000","strokeWidth":1,"opacity":1},
 "encoding":{"x":{"field":"t","type":"quantitative"},"y":{"field":"p","type":"quantitative"}}},
{"data":{"values":[{"t":1072,"p":7134.4}]},"mark":{"type":"point","shape":"M -1 0 A 1 0.26 0 1 0 1 0 A 1 0.26 0 1 0 -1 0 Z","size":9216,"filled":true,"fill":"#fdfade","stroke":"#000000","strokeWidth":1,"opacity":1},
 "encoding":{"x":{"field":"t","type":"quantitative"},"y":{"field":"p","type":"quantitative"}}},
{"data":{"values":[{"t":1267.5,"p":7165.3}]},"mark":{"type":"point","shape":"M -1 0 A 1 1.133 0 1 0 1 0 A 1 1.133 0 1 0 -1 0 Z","size":900,"filled":true,"fill":"#fdfade","stroke":"#000000","strokeWidth":1,"opacity":1},
 "encoding":{"x":{"field":"t","type":"quantitative"},"y":{"field":"p","type":"quantitative"}}},
{"data":{"name":"bars"},"mark":{"type":"area","strokeWidth":0.8,"opacity":1},
 "encoding":{"x":{"field":"t","type":"quantitative"},"y":{"field":"h","type":"quantitative"},"y2":{"field":"l"},
  "color":{"field":"c","type":"nominal","legend":null,"scale":{"domain":["sesA","sesB","L2","L3","L4","L5","prev","hn","h1","h2","h3","h4","h5","h6","h7","hv","hp"],"range":["#000000","#14148c","#40c440","#0000f5","#000000","#2ad8ea","#000000","#ff2020","#ff2020","#30e030","#2020ff","#000000","#30e8f0","#ff30ff","#b01818","#1a1a3a","#ff2020"]}},
  "stroke":{"field":"c","type":"nominal","legend":null,"scale":{"domain":["sesA","sesB","L2","L3","L4","L5","prev","hn","h1","h2","h3","h4","h5","h6","h7","hv","hp"],"range":["#000000","#14148c","#40c440","#0000f5","#000000","#2ad8ea","#000000","#ff2020","#ff2020","#30e030","#2020ff","#000000","#30e8f0","#ff30ff","#b01818","#1a1a3a","#ff2020"]}}}},
{"data":{"name":"bars"},"mark":{"type":"rule","strokeWidth":1.6},
 "encoding":{"x":{"field":"t","type":"quantitative"},"y":{"field":"h","type":"quantitative"},"y2":{"field":"l"},
  "color":{"field":"c","type":"nominal","legend":null,"scale":{"domain":["sesA","sesB","L2","L3","L4","L5","prev","hn","h1","h2","h3","h4","h5","h6","h7","hv","hp"],"range":["#000000","#14148c","#40c440","#0000f5","#000000","#2ad8ea","#000000","#ff2020","#ff2020","#30e030","#2020ff","#000000","#30e8f0","#ff30ff","#b01818","#1a1a3a","#ff2020"]}}}},
{"data":{"name":"levels"},"mark":{"type":"rule","strokeWidth":2},
 "encoding":{"x":{"field":"t","type":"quantitative"},"x2":{"field":"t2"},"y":{"field":"p","type":"quantitative"},
  "color":{"field":"c","type":"nominal","legend":null,"scale":{"domain":["sesA","sesB","L2","L3","L4","L5","prev","hn","h1","h2","h3","h4","h5","h6","h7","hv","hp"],"range":["#000000","#14148c","#40c440","#0000f5","#000000","#2ad8ea","#000000","#ff2020","#ff2020","#30e030","#2020ff","#000000","#30e8f0","#ff30ff","#b01818","#1a1a3a","#ff2020"]}}}},
{"data":{"values":[{"t":841.5,"p":7118.5},{"t":1430,"p":7158.6}]},"mark":{"type":"line","color":"#2020d8","strokeWidth":1.2},
 "encoding":{"x":{"field":"t","type":"quantitative"},"y":{"field":"p","type":"quantitative"}}},
{"data":{"name":"arrows"},"mark":{"type":"point","shape":"M -0.35 1 L 0.35 1 L 0.35 0 L 0.9 0 L 0 -1 L -0.9 0 L -0.35 0 Z","size":196,"filled":true,"fill":"#8a8aff","opacity":0.85,"strokeWidth":0},
 "encoding":{"x":{"field":"t","type":"quantitative"},"y":{"field":"p","type":"quantitative"}}},
{"data":{"name":"header"},"mark":{"type":"text","font":"Liberation Sans","fontSize":11,"align":"left","baseline":"middle"},
 "encoding":{"x":{"field":"t","type":"quantitative"},"y":{"datum":7184.1,"type":"quantitative"},"text":{"field":"txt"},
  "color":{"field":"c","type":"nominal","legend":null,"scale":{"domain":["sesA","sesB","L2","L3","L4","L5","prev","hn","h1","h2","h3","h4","h5","h6","h7","hv","hp"],"range":["#000000","#14148c","#40c440","#0000f5","#000000","#2ad8ea","#000000","#ff2020","#ff2020","#30e030","#2020ff","#000000","#30e8f0","#ff30ff","#b01818","#1a1a3a","#ff2020"]}}}},
{"data":{"name":"buttons"},"mark":{"type":"rect","fill":"#d4d0c8","stroke":"#404040","strokeWidth":0.8},
 "encoding":{"x":{"field":"t","type":"quantitative"},"x2":{"field":"t2"},"y":{"datum":7183.6,"type":"quantitative"},"y2":{"datum":7185.2}}},
{"data":{"name":"buttons"},"mark":{"type":"text","font":"DejaVu Sans","fontSize":8,"color":"#000000","align":"center","baseline":"middle"},
 "encoding":{"x":{"field":"t","type":"quantitative"},"y":{"datum":7184.4,"type":"quantitative"},"text":{"field":"g"},"xOffset":{"value":5.5}}},
{"data":{"values":[{"t":7,"t2":53.25,"p":7085.8,"p2":7087.7}]},"mark":{"type":"rect","fill":"#c4d4ee","stroke":"#1a2a5a","strokeWidth":1},
 "encoding":{"x":{"field":"t","type":"quantitative"},"x2":{"field":"t2"},"y":{"field":"p","type":"quantitative"},"y2":{"field":"p2"}}},
{"data":{"values":[{"t":30.1,"p":7086.75,"txt":"Sin órdenes"}]},"mark":{"type":"text","font":"Liberation Sans","fontSize":10.5,"color":"#000000","align":"center","baseline":"middle"},
 "encoding":{"x":{"field":"t","type":"quantitative"},"y":{"field":"p","type":"quantitative"},"text":{"field":"txt"}}},
{"data":{"values":[{"t":56.25,"p":7087.2,"txt":"www.visualchart.com"}]},"mark":{"type":"text","font":"DejaVu Sans","fontSize":16,"color":"#e8eaff","align":"left","baseline":"middle"},
 "encoding":{"x":{"field":"t","type":"quantitative"},"y":{"field":"p","type":"quantitative"},"text":{"field":"txt"}}},
{"data":{"values":[{"t":1489,"t2":1526,"p":7177.0,"p2":7179.0}]},"mark":{"type":"rect","fill":"#ffffc0","stroke":"#000000","strokeWidth":1},
 "encoding":{"x":{"field":"t","type":"quantitative"},"x2":{"field":"t2"},"y":{"field":"p","type":"quantitative"},"y2":{"field":"p2"}}},
{"data":{"values":[{"t":1507.5,"p":7178.0,"txt":"7.178,0"}]},"mark":{"type":"text","font":"Liberation Sans","fontSize":13,"color":"#000000","align":"center","baseline":"middle"},
 "encoding":{"x":{"field":"t","type":"quantitative"},"y":{"field":"p","type":"quantitative"},"text":{"field":"txt"}}}
]
}
